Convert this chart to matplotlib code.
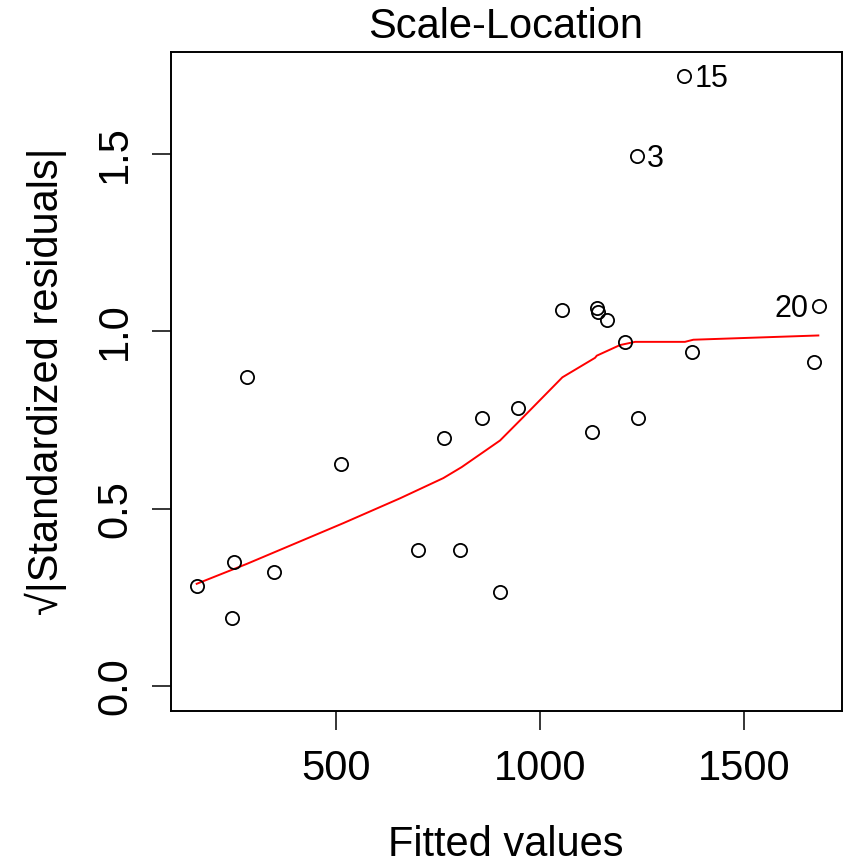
"""Scale-Location diagnostic plot"""
import matplotlib
matplotlib.use("Agg")
import matplotlib.pyplot as plt  # pylint: disable=import-error

plt.rcParams['font.family'] = ['Liberation Sans', 'DejaVu Sans']

# points
fitted = [158.6, 245.8, 250.7, 281.1, 348.8, 511.5, 701.7, 765.4, 804.7,
          858.6, 902.7, 946.8, 1054.7, 1128.2, 1139.0, 1142.2, 1163.0,
          1207.0, 1237.0, 1241.0, 1353.7, 1373.3, 1672.3, 1683.8]
sqrt_std_resid = [0.282, 0.191, 0.349, 0.872, 0.321, 0.625, 0.383, 0.699,
                  0.383, 0.756, 0.264, 0.784, 1.059, 0.715, 1.066, 1.054,
                  1.031, 0.970, 1.495, 0.756, 1.720, 0.942, 0.913, 1.072]

# smoother (red line)
smooth_x = [158.6, 281.1, 517.9, 656.9, 763.0, 808.0, 902.0, 959.0, 1054.7,
            1134.8, 1139.0, 1196.0, 1233.0, 1355.0, 1375.7, 1682.0]
smooth_y = [0.288, 0.344, 0.459, 0.529, 0.586, 0.617, 0.692, 0.758, 0.870,
            0.925, 0.931, 0.961, 0.970, 0.970, 0.976, 0.988]

# labelled observations
id_labels = ['15', '3', '20']
id_x = [1353.7, 1237.0, 1683.8]
id_y = [1.720, 1.495, 1.072]
id_side = ['right', 'right', 'left']

xticks = [500, 1000, 1500]
yticks = [0.0, 0.5, 1.0, 1.5]

W, H = 844, 864
fig = plt.figure(figsize=(W / 100, H / 100), dpi=100)
ax = fig.add_axes([171 / W, 1 - 711 / H, (842 - 171) / W, (711 - 52) / H])

ax.plot(fitted, sqrt_std_resid, 'o', mfc='none', mec='black', ms=9.5,
        mew=1.3, zorder=3)
ax.plot(smooth_x, smooth_y, color='red', lw=1.4, zorder=2)

for lab, x, y, side in zip(id_labels, id_x, id_y, id_side):
    off = 7.5 if side == 'right' else -7.5
    ax.annotate(lab, (x, y), xytext=(off, 0), textcoords='offset points',
                ha='left' if side == 'right' else 'right',
                va='center_baseline', fontsize=22)

ax.set_xlim(95.6, 1740)
ax.set_ylim(-0.0705, 1.787)
ax.set_xticks(xticks)
ax.set_xticklabels([str(t) for t in xticks])
ax.set_yticks(yticks)
ax.set_yticklabels([f"{t:.1f}" for t in yticks], rotation=90, va='center')
ax.tick_params(axis='both', direction='out', length=13.7, width=1.1,
               labelsize=30, colors='black')
ax.tick_params(axis='x', pad=14)
ax.tick_params(axis='y', pad=12)
for s in ax.spines.values():
    s.set_linewidth(1.4)

fig.text(506 / W, 1 - 38 / H, 'Scale-Location', ha='center',
         va='baseline', fontsize=30)
fig.text(506 / W, 1 - 856 / H, 'Fitted values', ha='center',
         va='baseline', fontsize=30)
fig.text(46 / W, 1 - 381 / H, '\u221a|Standardized residuals|',
         rotation=90, ha='center', va='center', fontsize=30)

fig.savefig('out.png', dpi=100)
